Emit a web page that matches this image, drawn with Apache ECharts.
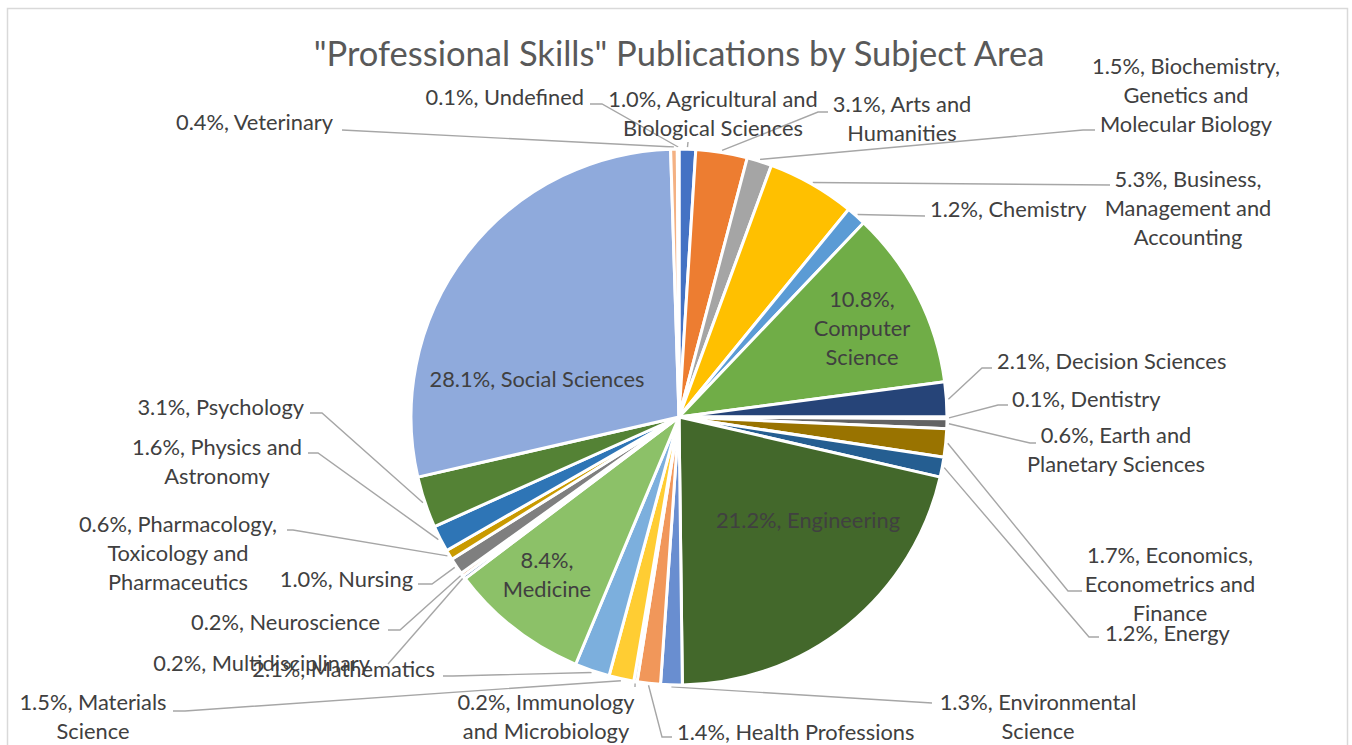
<!DOCTYPE html>
<html>
<head>
<meta charset="utf-8">
<title>"Professional Skills" Publications by Subject Area</title>
<script src="https://cdn.jsdelivr.net/npm/echarts@6/dist/echarts.min.js"></script>
<style>
  html, body { margin: 0; padding: 0; background: #ffffff; }
  #chart { width: 1352px; height: 745px; }
</style>
</head>
<body>
<div id="chart"></div>
<script>
// Subject areas, in the order the slices run clockwise from twelve o'clock
const categories = [
  'Agricultural and Biological Sciences',
  'Arts and Humanities',
  'Biochemistry, Genetics and Molecular Biology',
  'Business, Management and Accounting',
  'Chemistry',
  'Computer Science',
  'Decision Sciences',
  'Dentistry',
  'Earth and Planetary Sciences',
  'Economics, Econometrics and Finance',
  'Energy',
  'Engineering',
  'Environmental Science',
  'Health Professions',
  'Immunology and Microbiology',
  'Materials Science',
  'Mathematics',
  'Medicine',
  'Multidisciplinary',
  'Neuroscience',
  'Nursing',
  'Pharmacology, Toxicology and Pharmaceutics',
  'Physics and Astronomy',
  'Psychology',
  'Social Sciences',
  'Veterinary',
  'Undefined'
];

// Share of publications per subject area (%)
const shares = [
  1.0, 3.1, 1.5, 5.3, 1.2, 10.8, 2.1, 0.1, 0.6, 1.7, 1.2, 21.2, 1.3, 1.4,
  0.2, 1.5, 2.1, 8.4, 0.2, 0.2, 1.0, 0.6, 1.6, 3.1, 28.1, 0.4, 0.1
];

const chartTitle = '"Professional Skills" Publications by Subject Area';

// Office-style slice colours, one per subject area
const palette = [
  '#4472C4', '#ED7D31', '#A5A5A5', '#FFC000', '#5B9BD5', '#70AD47',
  '#264478', '#9E480E', '#636363', '#997300', '#255E91', '#43682B',
  '#698ED0', '#F1975A', '#B7B7B7', '#FFCD33', '#7CAFDD', '#8CC168',
  '#335AA1', '#D26012', '#7F7F7F', '#C99A00', '#2E75B6', '#548235',
  '#8FAADC', '#F4B183', '#C9C9C9'
];

// Labels printed on the slice itself
const insideLabels = ['Computer Science', 'Engineering', 'Medicine', 'Social Sciences'];

// Where each label wraps: word counts after which a new line starts
const wraps = {
  'Agricultural and Biological Sciences': [3],
  'Arts and Humanities': [3],
  'Biochemistry, Genetics and Molecular Biology': [2, 4],
  'Business, Management and Accounting': [2, 4],
  'Computer Science': [1, 2],
  'Earth and Planetary Sciences': [3],
  'Economics, Econometrics and Finance': [2, 4],
  'Environmental Science': [2],
  'Immunology and Microbiology': [2],
  'Materials Science': [2],
  'Medicine': [1],
  'Pharmacology, Toxicology and Pharmaceutics': [2, 4],
  'Physics and Astronomy': [3]
};

// Label anchors (centre of the text block) and leader-line bends
const labelSpots = {
  'Agricultural and Biological Sciences': { x: 713, y: 115, align: 'center', path: [[688, 142]] },
  'Arts and Humanities': { x: 902, y: 120, align: 'center', path: [[818, 112], [828, 112]] },
  'Biochemistry, Genetics and Molecular Biology': { x: 1186, y: 96, align: 'center', path: [[1083, 130], [1095, 130]] },
  'Business, Management and Accounting': { x: 1188, y: 209, align: 'center', path: [[1110, 185]] },
  'Chemistry': { x: 930, y: 210, align: 'left', path: [[925, 216]] },
  'Computer Science': { x: 862, y: 329, align: 'center' },
  'Decision Sciences': { x: 997, y: 362, align: 'left', path: [[982, 368], [992, 368]] },
  'Dentistry': { x: 1012, y: 400, align: 'left', path: [[998, 405], [1008, 405]] },
  'Earth and Planetary Sciences': { x: 1116, y: 451, align: 'center', path: [[1030, 443], [1036, 443]] },
  'Economics, Econometrics and Finance': { x: 1170, y: 585, align: 'center', path: [[1068, 591], [1082, 591]] },
  'Energy': { x: 1105, y: 634, align: 'left', path: [[1089, 637], [1099, 637]] },
  'Engineering': { x: 808, y: 521, align: 'center' },
  'Environmental Science': { x: 1038, y: 718, align: 'center', path: [[932, 703]] },
  'Health Professions': { x: 677, y: 733, align: 'left', path: [[662, 737], [672, 737]] },
  'Immunology and Microbiology': { x: 546, y: 718, align: 'center', path: [[635, 687]] },
  'Materials Science': { x: 93, y: 718, align: 'center', path: [[185, 711], [173, 711]] },
  'Mathematics': { x: 435, y: 670, align: 'right', path: [[453, 676], [443, 676]] },
  'Medicine': { x: 547, y: 576, align: 'center' },
  'Multidisciplinary': { x: 370, y: 664, align: 'right', path: [[388, 664]] },
  'Neuroscience': { x: 380, y: 623, align: 'right', path: [[400, 630], [388, 630]] },
  'Nursing': { x: 413, y: 580, align: 'right', path: [[432, 584], [418, 584]] },
  'Pharmacology, Toxicology and Pharmaceutics': { x: 178, y: 554, align: 'center', path: [[293, 530], [287, 530]] },
  'Physics and Astronomy': { x: 217, y: 463, align: 'center', path: [[318, 453], [308, 453]] },
  'Psychology': { x: 304, y: 408, align: 'right', path: [[322, 413], [310, 413]] },
  'Social Sciences': { x: 537, y: 380, align: 'center' },
  'Veterinary': { x: 333, y: 123, align: 'right', path: [[342, 130]] },
  'Undefined': { x: 584, y: 98, align: 'right', path: [[602, 104], [590, 104]] }
};

// Lato sits slightly low in its line box; lift the label text a touch
const TEXT_LIFT = 2;

const FONT = 'Lato, "Noto Sans", sans-serif';

// Pick a font size so the given strings span the wanted total width
function fitSize(samples, totalWidth) {
  const ctx = document.createElement('canvas').getContext('2d');
  ctx.font = '100px ' + FONT;
  let w = 0;
  samples.forEach(s => { w += ctx.measureText(s).width; });
  return 100 * totalWidth / w;
}
const labelSize = fitSize(['0.1%, Undefined', '2.1%, Decision Sciences', 'Molecular Biology'], 158 + 228 + 175);
const titleSize = fitSize([chartTitle], 733);

function wrapText(text, breaks) {
  if (!breaks) return text;
  const words = text.split(' ');
  const lines = [];
  let from = 0;
  breaks.concat([words.length]).forEach(to => {
    lines.push(words.slice(from, to).join(' '));
    from = to;
  });
  return lines.join('\n');
}

const pieData = categories.map((name, i) => {
  const item = { name: name, value: shares[i], itemStyle: { color: palette[i] } };
  if (insideLabels.indexOf(name) >= 0) {
    item.label = { position: 'inside' };
    item.labelLine = { show: false };
  }
  return item;
});

const chart = echarts.init(document.getElementById('chart'), null, { renderer: 'svg' });

chart.setOption({
  animation: false,
  backgroundColor: '#ffffff',
  graphic: [
    {
      type: 'rect',
      silent: true,
      shape: { x: 7.5, y: 8.5, width: 1340, height: 780 },
      style: { fill: 'none', stroke: '#D9D9D9', lineWidth: 1.5 }
    },
    {
      type: 'text',
      silent: true,
      x: 679,
      y: 52,
      style: {
        text: chartTitle,
        align: 'center',
        verticalAlign: 'middle',
        fill: '#595959',
        fontFamily: FONT,
        fontSize: titleSize
      }
    }
  ],
  series: [
    {
      type: 'pie',
      center: [679, 417],
      radius: 268,
      startAngle: 90,
      clockwise: true,
      avoidLabelOverlap: false,
      emphasis: { disabled: true },
      itemStyle: { borderColor: '#ffffff', borderWidth: 3 },
      label: {
        show: true,
        position: 'outside',
        color: '#404040',
        fontFamily: FONT,
        fontSize: labelSize,
        lineHeight: 29,
        formatter: p => wrapText(p.value.toFixed(1) + '%, ' + p.name, wraps[p.name])
      },
      labelLine: {
        show: true,
        length: 10,
        length2: 10,
        lineStyle: { color: '#A6A6A6', width: 1.4 }
      },
      labelLayout: params => {
        const spot = labelSpots[categories[params.dataIndex]];
        const out = { x: spot.x, y: spot.y - TEXT_LIFT, align: spot.align, verticalAlign: 'middle' };
        const pts = params.labelLinePoints;
        if (spot.path && pts && pts.length > 1) {
          const dx = pts[1][0] - pts[0][0];
          const dy = pts[1][1] - pts[0][1];
          const len = Math.hypot(dx, dy) || 1;
          const start = [pts[0][0] + dx / len * 2, pts[0][1] + dy / len * 2];
          out.labelLinePoints = [start].concat(spot.path);
        }
        return out;
      },
      data: pieData
    }
  ]
});
</script>
</body>
</html>
